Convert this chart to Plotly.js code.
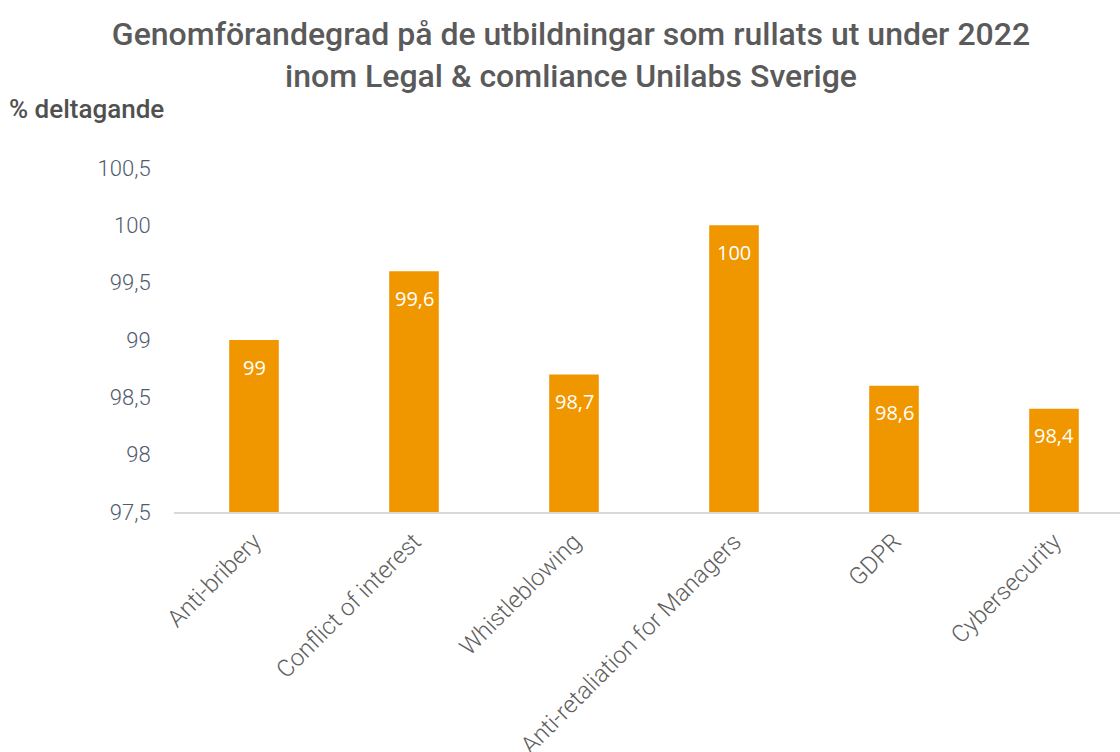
<!DOCTYPE html>
<html>
<head>
<meta charset="utf-8">
<script src="https://cdn.plot.ly/plotly-3.0.1.min.js"></script>
<style>html,body{margin:0;padding:0;background:#fff;}#chart{width:1120px;height:752px;}</style>
</head>
<body>
<div id="chart"></div>
<script>
const categories = ["Anti-bribery", "Conflict of interest", "Whistleblowing", "Anti-retaliation for Managers", "GDPR", "Cybersecurity"];
const values = [99, 99.6, 98.7, 100, 98.6, 98.4];
const yTicks = [97.5, 98, 98.5, 99, 99.5, 100, 100.5];
const titleText = "Genomförandegrad på de utbildningar som rullats ut under 2022<br>inom Legal &amp; comliance Unilabs Sverige";
const yTitle = "% deltagande";

const fmt = v => String(v).replace('.', ',');

const trace = {
  type: 'bar',
  x: categories,
  y: values,
  marker: {color: '#F09700'},
  width: 0.31,
  hoverinfo: 'skip'
};

const annotations = categories.map((c, i) => ({
  x: c, y: values[i], xref: 'x', yref: 'y',
  text: fmt(values[i]), showarrow: false,
  yanchor: 'middle', yshift: -27,
  font: {family: 'Open Sans', size: 20, color: '#ffffff'}
}));
annotations.push({
  xref: 'paper', yref: 'paper', x: (7 - 174)/946, y: 1 + (168 - 109)/344,
  xanchor: 'left', yanchor: 'middle', showarrow: false,
  text: yTitle,
  font: {family: 'Roboto', size: 26, color: '#505050', weight: 500}
});

const layout = {
  width: 1120, height: 752,
  margin: {l: 174, r: 0, t: 168, b: 240},
  paper_bgcolor: '#ffffff', plot_bgcolor: '#ffffff',
  separators: ', ',
  showlegend: false,
  title: {
    text: titleText, x: 571/1120, xanchor: 'center', y: 1 - 45/752, yanchor: 'middle',
    font: {family: 'Roboto', size: 32, color: '#5A5A5A', weight: 500}
  },
  xaxis: {
    type: 'category', range: [-0.5, 5.4125],
    showline: true, linecolor: '#D9D9D9', linewidth: 2,
    showgrid: false, zeroline: false,
    ticks: 'outside', ticklen: 4, tickcolor: 'rgba(0,0,0,0)',
    tickangle: -45,
    tickfont: {family: 'Roboto Light, Roboto', size: 24, color: '#606060', weight: 300}
  },
  yaxis: {
    range: [97.5, 100.5], tickvals: yTicks, ticktext: yTicks.map(fmt),
    showline: false, showgrid: false, zeroline: false,
    ticks: 'outside', ticklen: 18, tickcolor: 'rgba(0,0,0,0)',
    tickfont: {family: 'Roboto Light, Roboto', size: 22, color: '#4F5B6E', weight: 300}
  },
  annotations: annotations
};

Plotly.newPlot('chart', [trace], layout, {displayModeBar: false, staticPlot: true});
</script>
</body>
</html>
